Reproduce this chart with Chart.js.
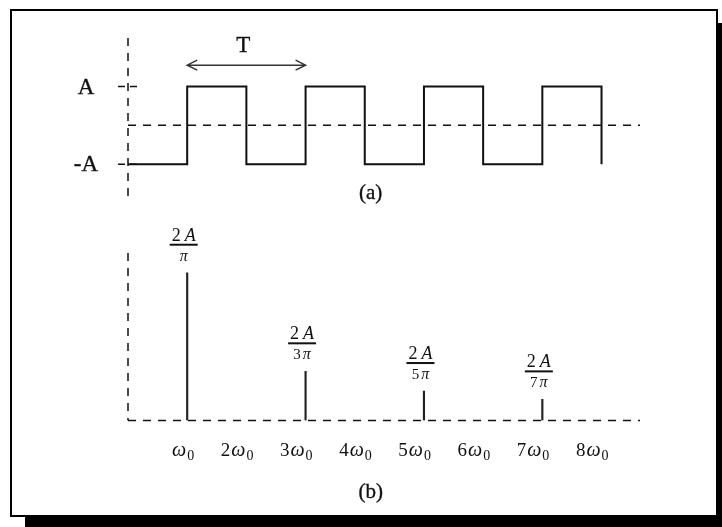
<!DOCTYPE html>
<html>
<head>
<meta charset="utf-8">
<script src="https://cdn.jsdelivr.net/npm/chart.js@4.4.1/dist/chart.umd.min.js"></script>
<style>
  html, body { margin: 0; padding: 0; background: #fff; }
  #page { position: relative; width: 722px; height: 527px; overflow: hidden; }
  #frame {
    position: absolute; left: 10px; top: 9px; width: 708px; height: 508px;
    box-sizing: border-box; border: 2px solid #000; background: #fff;
    box-shadow: 15px 14px 0 0 #000;
  }
  canvas { position: absolute; left: 0; top: 0; }
</style>
</head>
<body>
<div id="page">
  <div id="frame"></div>
  <canvas id="waveChart" width="722" height="527"></canvas>
  <canvas id="specChart" width="722" height="527"></canvas>
</div>
<script>
const ink = '#111';
const serif = '"Liberation Serif", "DejaVu Serif", serif';

// square wave, x measured in half periods (T/2), one level per half period
const edgeTimes = [0, 1, 2, 3, 4, 5, 6, 7, 8];
const waveLevels = [-1, 1, -1, 1, -1, 1, -1, 1, -1];
const levelTicks = [1, -1];
const levelLabels = ['A', '-A'];

// line spectrum, x measured in multiples of w0, A = 1
const harmonics = [1, 3, 5, 7];
const amplitudes = [0.637, 0.212, 0.127, 0.091]; // 2A/pi, 2A/3pi, 2A/5pi, 2A/7pi
const ampDenoms = ['', '3', '5', '7'];
const freqTicks = [1, 2, 3, 4, 5, 6, 7, 8];
const freqCoefs = ['', '2', '3', '4', '5', '6', '7', '8'];

function dashed(ctx, x1, y1, x2, y2, dash) {
  ctx.save();
  ctx.strokeStyle = ink;
  ctx.lineWidth = 1.5;
  ctx.setLineDash(dash || [8, 7]);
  ctx.beginPath();
  ctx.moveTo(x1, y1);
  ctx.lineTo(x2, y2);
  ctx.stroke();
  ctx.restore();
}

// big labels get a thin outline so they read a little heavier
function inkText(ctx, t, x, y) {
  ctx.fillText(t, x, y);
  ctx.strokeText(t, x, y);
}

// text made of pieces in different fonts (roman digits, italic symbols, subscripts)
function runWidth(ctx, parts) {
  let w = 0;
  parts.forEach(p => { ctx.font = p.font; w += ctx.measureText(p.t).width + (p.gap || 0); });
  return w;
}
function drawRun(ctx, parts, x, y) {
  parts.forEach(p => {
    ctx.font = p.font;
    ctx.fillText(p.t, x, y + (p.dy || 0));
    x += ctx.measureText(p.t).width + (p.gap || 0);
  });
}

function textPen(ctx) {
  ctx.fillStyle = ink;
  ctx.strokeStyle = ink;
  ctx.lineWidth = 0.35;
  ctx.setLineDash([]);
}

const waveDecor = {
  id: 'waveDecor',
  beforeDatasetsDraw(chart) {
    const { ctx, chartArea: a, scales: { x, y } } = chart;
    const x0 = x.getPixelForValue(0);
    const yMid = y.getPixelForValue(0);
    dashed(ctx, x0, a.top, x0, a.bottom);
    dashed(ctx, x0, yMid, a.right, yMid);
    levelTicks.forEach(v => {
      const py = y.getPixelForValue(v);
      dashed(ctx, x0 - 10, py, x0 + 10, py, [7, 5]);
    });
  },
  afterDraw(chart) {
    const { ctx, chartArea: a, scales: { x, y } } = chart;
    const x0 = x.getPixelForValue(0);
    ctx.save();
    ctx.textAlign = 'center';
    ctx.textBaseline = 'middle';

    // period arrow spanning one full cycle
    const xa = x.getPixelForValue(1), xb = x.getPixelForValue(3);
    const ya = y.getPixelForValue(1.55);
    ctx.strokeStyle = '#333';
    ctx.lineWidth = 1.5;
    ctx.beginPath();
    ctx.moveTo(xa, ya); ctx.lineTo(xb, ya);
    ctx.moveTo(xa + 10, ya - 5); ctx.lineTo(xa, ya); ctx.lineTo(xa + 10, ya + 5);
    ctx.moveTo(xb - 10, ya - 5); ctx.lineTo(xb, ya); ctx.lineTo(xb - 10, ya + 5);
    ctx.stroke();

    textPen(ctx);
    ctx.font = '23px ' + serif;
    levelTicks.forEach((v, i) => {
      inkText(ctx, levelLabels[i], x0 - 42, y.getPixelForValue(v) + 1);
    });
    inkText(ctx, 'T', (xa + xb) / 2 - 3, ya - 19);

    ctx.font = '21px ' + serif;
    inkText(ctx, '(a)', x.getPixelForValue(4.1), a.bottom - 10);
    ctx.restore();
  }
};

const specDecor = {
  id: 'specDecor',
  beforeDatasetsDraw(chart) {
    const { ctx, chartArea: a, scales: { x, y } } = chart;
    const x0 = x.getPixelForValue(0);
    const yBase = y.getPixelForValue(0);
    dashed(ctx, x0, a.top, x0, yBase);
    dashed(ctx, x0, yBase, a.right, yBase);
  },
  afterDraw(chart) {
    const { ctx, scales: { x, y } } = chart;
    const yBase = y.getPixelForValue(0);
    ctx.save();
    textPen(ctx);
    ctx.textAlign = 'left';
    ctx.textBaseline = 'alphabetic';

    // amplitude fractions over each line
    const numFont = '18px ' + serif, numItal = 'italic 18px ' + serif;
    const denFont = '15px ' + serif, denItal = 'italic 16px ' + serif;
    harmonics.forEach((n, i) => {
      const cx = x.getPixelForValue(n) - 3.5;
      const barY = y.getPixelForValue(amplitudes[i]) - 28;
      const num = [{ t: '2', font: numFont, gap: 4 }, { t: 'A', font: numItal }];
      const den = ampDenoms[i]
        ? [{ t: ampDenoms[i], font: denFont, gap: 2 }, { t: 'π', font: denItal }]
        : [{ t: 'π', font: denItal }];
      const wN = runWidth(ctx, num), wD = runWidth(ctx, den);
      const w = Math.max(wN, wD) + 4;
      ctx.fillRect(cx - w / 2, barY - 1, w, 2);
      drawRun(ctx, num, cx - wN / 2, barY - 4);
      drawRun(ctx, den, cx - wD / 2, barY + 16);
    });

    // frequency axis labels n·w0
    freqTicks.forEach((v, i) => {
      const parts = [];
      if (freqCoefs[i]) parts.push({ t: freqCoefs[i], font: '19px ' + serif, gap: 1 });
      parts.push({ t: 'ω', font: 'italic 20px ' + serif, gap: 1 });
      parts.push({ t: '0', font: '14px ' + serif, dy: 4 });
      const right = x.getPixelForValue(v) + 7;
      drawRun(ctx, parts, right - runWidth(ctx, parts), yBase + 35);
    });

    ctx.font = '21px ' + serif;
    ctx.textAlign = 'center';
    ctx.textBaseline = 'middle';
    inkText(ctx, '(b)', x.getPixelForValue(4.1), yBase + 72);
    ctx.restore();
  }
};

const hiddenScales = (ymin, ymax) => ({
  x: { type: 'linear', min: 0, max: 8.65, offset: false, grid: { offset: false }, display: false },
  y: { type: 'linear', min: ymin, max: ymax, display: false }
});
const commonPlugins = { legend: { display: false }, tooltip: { enabled: false } };

new Chart(document.getElementById('waveChart').getContext('2d'), {
  type: 'line',
  data: {
    datasets: [{
      data: edgeTimes.map((t, i) => ({ x: t, y: waveLevels[i] })),
      stepped: 'before',
      borderColor: ink,
      borderWidth: 2,
      pointRadius: 0,
      fill: false
    }]
  },
  options: {
    responsive: false,
    animation: false,
    layout: { padding: { left: 128, right: 82, top: 38, bottom: 324 } },
    scales: hiddenScales(-2, 2.25),
    plugins: commonPlugins
  },
  plugins: [waveDecor]
});

new Chart(document.getElementById('specChart').getContext('2d'), {
  type: 'bar',
  data: {
    datasets: [{
      data: harmonics.map((n, i) => ({ x: n, y: amplitudes[i] })),
      backgroundColor: '#222',
      barThickness: 1.5
    }]
  },
  options: {
    responsive: false,
    animation: false,
    layout: { padding: { left: 128, right: 82, top: 253, bottom: 106.5 } },
    scales: hiddenScales(0, 0.722),
    plugins: commonPlugins
  },
  plugins: [specDecor]
});
</script>
</body>
</html>
